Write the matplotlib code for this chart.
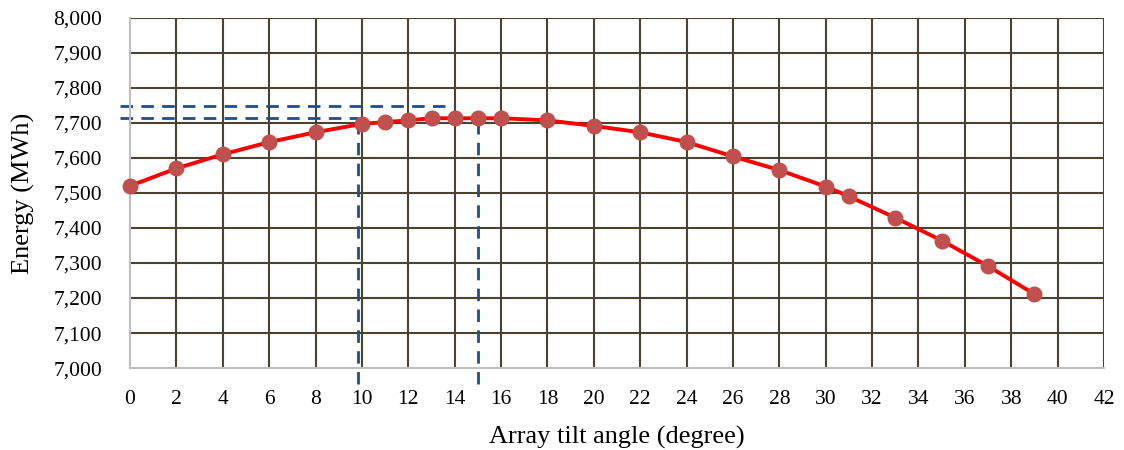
import matplotlib
matplotlib.use("Agg")
import matplotlib.pyplot as plt
from matplotlib.ticker import FuncFormatter

# tilt angle (deg) vs. annual energy yield (MWh)
tilt = [0, 2, 4, 6, 8, 10, 11, 12, 13, 14, 15, 16, 18, 20, 22, 24, 26, 28,
        30, 31, 33, 35, 37, 39]
energy = [7520, 7570, 7610, 7645, 7673, 7697, 7702, 7707, 7713, 7713, 7713,
          7713, 7707, 7691, 7673, 7645, 7604, 7565, 7518, 7490, 7429, 7364,
          7291, 7211]

# guide lines marking the optimum tilt range
guide_h = [(7748, 14.0), (7715, 9.85)]   # (energy level, right end)
guide_v = [(9.85, 7715), (15.0, 7712)]   # (tilt, top end)

plt.rcParams["font.family"] = ["Liberation Serif", "DejaVu Serif"]

fig = plt.figure(figsize=(11.24, 4.5), dpi=100)
ax = fig.add_axes([0.1157, 0.182, 0.8665, 0.7787])

grid_col = "#4a4330"
for xv in range(2, 43, 2):
    ax.axvline(xv, color=grid_col, lw=1.5, zorder=1)
for yv in range(7100, 8001, 100):
    ax.axhline(yv, color=grid_col, lw=1.5, zorder=1)

dash = dict(color="#1f4e89", lw=2, ls=(0, (4.5, 3)), clip_on=False, zorder=2)
for yv, xe in guide_h:
    ax.plot([-0.43, xe], [yv, yv], **dash)
for xv, ye in guide_v:
    ax.plot([xv, xv], [6955, ye], **dash)

ax.plot(tilt, energy, color="#ff0000", lw=2.8, zorder=3)
ax.plot(tilt, energy, "o", color="#c0504d", ms=10.5, mec="#c0504d",
        clip_on=False, zorder=4)

ax.set_xlim(0, 42)
ax.set_ylim(7000, 8000)
ax.set_xticks(range(0, 43, 2))
ax.set_yticks(range(7000, 8001, 100))
ax.yaxis.set_major_formatter(FuncFormatter(lambda v, p: f"{int(v):,}"))
ax.tick_params(length=0, labelsize=15.5)
ax.tick_params(axis="y", pad=20)
ax.tick_params(axis="x", pad=16)

for s in ("top", "right"):
    ax.spines[s].set_visible(False)
for s in ("left", "bottom"):
    ax.spines[s].set_color("#bfbfbf")
    ax.spines[s].set_linewidth(1.5)

ax.set_xlabel("Array tilt angle (degree)", fontsize=19, labelpad=12)
ax.set_ylabel("Energy (MWh)", fontsize=19, labelpad=13)

fig.savefig("out.png", dpi=100)
